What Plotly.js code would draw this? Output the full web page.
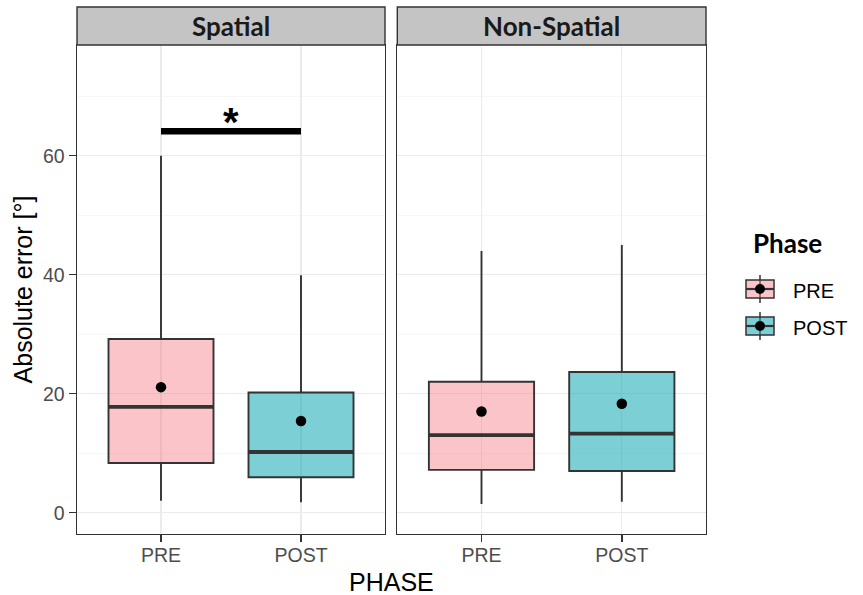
<!DOCTYPE html>
<html>
<head>
<meta charset="utf-8">
<script src="https://cdn.plot.ly/plotly-3.0.1.min.js"></script>
<style>
  html, body { margin: 0; padding: 0; background: #ffffff; }
  #chart { width: 863px; height: 595px; }
</style>
</head>
<body>
<div id="chart"></div>
<script>
// ---- data -------------------------------------------------------------
const phases = ['PRE', 'POST'];
const conditions = ['Spatial', 'Non-Spatial'];

// box-plot summaries, one value per phase (PRE, POST)
const spatialLower  = [2.0, 1.75];
const spatialQ1     = [8.35, 5.95];
const spatialMedian = [17.8, 10.2];
const spatialQ3     = [29.2, 20.2];
const spatialUpper  = [60.0, 39.9];
const spatialMean   = [21.1, 15.4];

const nonSpatialLower  = [1.45, 1.85];
const nonSpatialQ1     = [7.2, 7.0];
const nonSpatialMedian = [13.05, 13.3];
const nonSpatialQ3     = [22.0, 23.65];
const nonSpatialUpper  = [44.0, 45.0];
const nonSpatialMean   = [17.0, 18.3];

// significance bracket between PRE and POST in the Spatial panel
const sigLevel = 64.1;
const sigLabel = '*';

const yTickValues = [0, 20, 40, 60];
const yMinorValues = [10, 30, 50, 70];

// ---- styling ----------------------------------------------------------
const phaseFill = ['rgba(243,115,125,0.42)', 'rgba(0,161,175,0.51)'];
const ink = '#333333';
const boxWidth = 0.75;

const W = 863, H = 595;
const M = { l: 77, r: 157, t: 7, b: 61 };
const plotW = W - M.l - M.r, plotH = H - M.t - M.b;
const px = x => (x - M.l) / plotW;          // page px -> paper x
const py = y => (H - M.b - y) / plotH;      // page px -> paper y
const panelTop = py(45);

const panels = [
  { name: conditions[0], xa: 'x',  ya: 'y',  lower: spatialLower, q1: spatialQ1, med: spatialMedian, q3: spatialQ3, upper: spatialUpper, mean: spatialMean },
  { name: conditions[1], xa: 'x2', ya: 'y2', lower: nonSpatialLower, q1: nonSpatialQ1, med: nonSpatialMedian, q3: nonSpatialQ3, upper: nonSpatialUpper, mean: nonSpatialMean }
];

const traces = [];
panels.forEach(p => {
  phases.forEach((ph, i) => {
    traces.push({
      type: 'box', xaxis: p.xa, yaxis: p.ya, name: ph,
      x: [i], q1: [p.q1[i]], median: [p.med[i]], q3: [p.q3[i]],
      lowerfence: [p.lower[i]], upperfence: [p.upper[i]],
      width: boxWidth, whiskerwidth: 0, boxpoints: false,
      fillcolor: phaseFill[i], line: { color: ink, width: 1.9 },
      showlegend: false, hoverinfo: 'skip'
    });
    // heavier median bar
    traces.push({
      type: 'scatter', mode: 'lines', xaxis: p.xa, yaxis: p.ya,
      x: [i - boxWidth / 2, i + boxWidth / 2], y: [p.med[i], p.med[i]],
      line: { color: ink, width: 3.8 }, showlegend: false, hoverinfo: 'skip'
    });
  });
  // group means
  traces.push({
    type: 'scatter', mode: 'markers', xaxis: p.xa, yaxis: p.ya,
    x: phases.map((_, i) => i), y: p.mean,
    marker: { color: '#000000', size: 10.5 }, showlegend: false, hoverinfo: 'skip'
  });
});

// significance bar
traces.push({
  type: 'scatter', mode: 'lines', xaxis: 'x', yaxis: 'y',
  x: [0, 1], y: [sigLevel, sigLevel],
  line: { color: '#000000', width: 6.5 }, showlegend: false, hoverinfo: 'skip'
});

const tickFont = { family: 'Liberation Sans, Arial, sans-serif', size: 19.5, color: '#4D4D4D' };
const xBase = {
  range: [-0.6, 1.6], tickmode: 'array', tickvals: phases.map((_, i) => i), ticktext: phases,
  ticks: 'outside', ticklen: 7, tickwidth: 1.4, tickcolor: ink, ticklabelstandoff: -4,
  showline: true, mirror: true, linecolor: ink, linewidth: 1.4,
  showgrid: true, gridcolor: '#EBEBEB', gridwidth: 1.2, zeroline: false,
  tickfont: tickFont, fixedrange: true
};
const yBase = {
  range: [-3.58, 78.6], domain: [0, panelTop],
  tickmode: 'array', tickvals: yTickValues,
  showline: true, mirror: true, linecolor: ink, linewidth: 1.4,
  showgrid: true, gridcolor: '#EBEBEB', gridwidth: 1.2, zeroline: false,
  minor: { tickmode: 'array', tickvals: yMinorValues, showgrid: true, gridcolor: '#F3F3F3', gridwidth: 0.7, ticks: '' },
  tickfont: tickFont, fixedrange: true
};

const shapes = [];
const annotations = [];

// facet strips
panels.forEach(p => {
  shapes.push({
    type: 'rect', xref: p.xa + ' domain', yref: 'paper',
    x0: 0, x1: 1, y0: panelTop, y1: 1,
    fillcolor: '#C4C4C4', line: { color: ink, width: 1.4 }
  });
  annotations.push({
    xref: p.xa + ' domain', yref: 'paper', x: 0.5, y: (panelTop + 1) / 2,
    xanchor: 'center', yanchor: 'middle', showarrow: false, text: p.name,
    font: { family: 'Lato, sans-serif', size: 26, weight: 700, color: '#1A1A1A' }
  });
});

// significance star
annotations.push({
  xref: 'x', yref: 'y', x: 0.5, y: sigLevel, xanchor: 'center', yanchor: 'bottom',
  yshift: -15, showarrow: false, text: sigLabel,
  font: { family: 'Liberation Sans, Arial, sans-serif', size: 40, weight: 700, color: '#000000' }
});

// shared x title
annotations.push({
  xref: 'paper', yref: 'paper', x: px((77 + 706) / 2), y: py(582),
  xanchor: 'center', yanchor: 'middle', showarrow: false, text: 'PHASE',
  font: { family: 'Liberation Sans, Arial, sans-serif', size: 25, color: '#000000' }
});

// legend
annotations.push({
  xref: 'paper', yref: 'paper', x: px(751), y: py(243),
  xanchor: 'left', yanchor: 'middle', showarrow: false, text: 'Phase',
  font: { family: 'Lato, sans-serif', size: 26, weight: 700, color: '#000000' }
});
phases.forEach((ph, i) => {
  const cy = 289 + i * 37;
  shapes.push({ type: 'line', xref: 'paper', yref: 'paper', x0: px(760), x1: px(760), y0: py(cy - 14), y1: py(cy + 14), line: { color: ink, width: 1.5 } });
  shapes.push({ type: 'rect', xref: 'paper', yref: 'paper', x0: px(746), x1: px(774), y0: py(cy - 9), y1: py(cy + 9), fillcolor: phaseFill[i], line: { color: ink, width: 1.5 } });
  shapes.push({ type: 'line', xref: 'paper', yref: 'paper', x0: px(746), x1: px(774), y0: py(cy), y1: py(cy), line: { color: ink, width: 2.2 } });
  shapes.push({ type: 'circle', xref: 'paper', yref: 'paper', x0: px(755), x1: px(765), y0: py(cy + 5), y1: py(cy - 5), fillcolor: '#000000', line: { color: '#000000', width: 0 } });
  annotations.push({
    xref: 'paper', yref: 'paper', x: px(791), y: py(cy + 2),
    xanchor: 'left', yanchor: 'middle', showarrow: false, text: ph,
    font: { family: 'Liberation Sans, Arial, sans-serif', size: 20, color: '#000000' }
  });
});

const layout = {
  width: W, height: H, margin: M,
  paper_bgcolor: '#ffffff', plot_bgcolor: '#ffffff',
  showlegend: false,
  xaxis: Object.assign({}, xBase, { domain: [0, px(385)], anchor: 'y' }),
  xaxis2: Object.assign({}, xBase, { domain: [px(397.3), 1], anchor: 'y2' }),
  yaxis: Object.assign({}, yBase, {
    anchor: 'x', ticks: 'outside', ticklen: 7, tickwidth: 1.4, tickcolor: ink,
    title: { text: 'Absolute error [°]', standoff: 3, font: { family: 'Liberation Sans, Arial, sans-serif', size: 25, color: '#000000' } }
  }),
  yaxis2: Object.assign({}, yBase, { anchor: 'x2', matches: 'y', showticklabels: false, ticks: '' }),
  shapes: shapes,
  annotations: annotations
};

Plotly.newPlot('chart', traces, layout, { staticPlot: true, displayModeBar: false });
</script>
</body>
</html>
